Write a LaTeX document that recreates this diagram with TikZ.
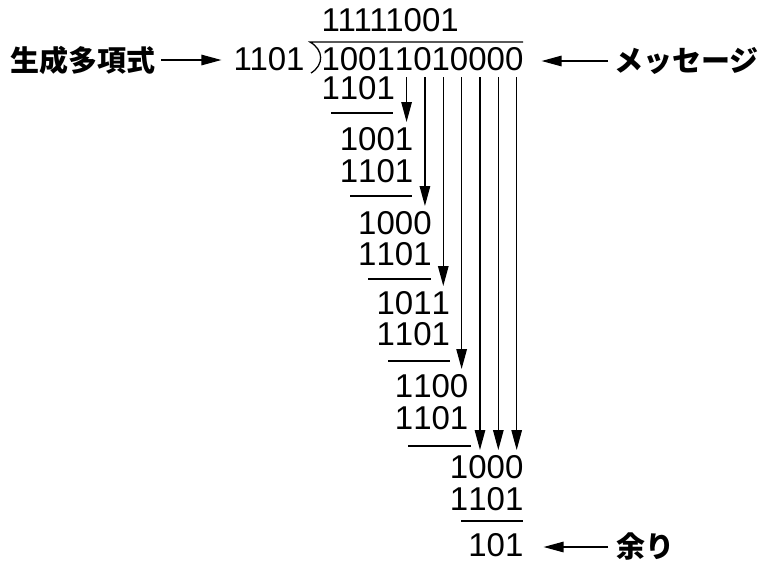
\documentclass[tikz,border=0pt]{standalone}
\usepackage{fontspec}
\setmainfont{Liberation Sans}
\newfontfamily\jpfont{Noto Sans CJK JP}
\usetikzlibrary{arrows.meta}
\tikzset{
  digit/.style={inner sep=0pt, minimum width=18.35pt, text height=23.6pt, text depth=0pt,
    font=\fontsize{33}{36}\selectfont},
  word/.style={inner sep=0pt, anchor=west, font=\jpfont\bfseries\fontsize{29}{32}\selectfont},
  tip/.style={line width=1.3pt, -{Triangle[length=20pt,width=10.5pt]}},
  rule/.style={line width=1.3pt},
}
\begin{document}
\begin{tikzpicture}[x=1pt,y=-1pt]
  \useasboundingbox (0,0) rectangle (783,566);

  % quotient, divisor and the division sign
  \node[digit, anchor=west] (q) at (321.5,20) {11111001};
  \node[digit, anchor=west] (div) at (233.4,59) {1101};
  \draw[rule] (523,42) -- (310,42) .. controls (324,50) and (324,65) .. (311,73);

  % message bits
  \foreach \d [count=\i from 0] in {1,0,0,1,1,0,1,0,0,0,0}
    {\node[digit] (m\i) at (330.675+18.35*\i,59) {\d};}

  % steps of the division
  \foreach \r/\c/\y/\ds in {1/0/88/{1,1,0,1}, 2/1/139/{1,0,0,1}, 3/1/171/{1,1,0,1},
      4/2/223/{1,0,0,0}, 5/2/254/{1,1,0,1}, 6/3/303/{1,0,1,1}, 7/3/334/{1,1,0,1},
      8/4/386/{1,1,0,0}, 9/4/418/{1,1,0,1}, 10/7/467/{1,0,0,0}, 11/7/499/{1,1,0,1},
      12/8/545/{1,0,1}}
    {\foreach \d [count=\k from \c] in \ds
      {\node[digit] (r\r-\k) at (330.675+18.35*\k,\y) {\d};}}

  \foreach \a/\b/\y in {331/393/113, 350/412/196, 368/431/279,
      388/450/361, 408/471/446, 461/523/521}
    {\draw[rule] (\a,\y) -- (\b,\y);}

  % bits brought down
  \foreach \c/\r in {4/2,5/4,6/6,7/8,8/10,9/10,10/10}
    {\draw[tip, shorten <=6pt, shorten >=5pt] ([xshift=2.5pt]m\c.south) -- ([xshift=2.5pt]r\r-\c.north);}

  % labels
  \node[word] (gen) at (10,60) {生成多項式};
  \node[word] (msg) at (614,61) {メッセージ};
  \node[word] (rem) at (616,547) {余り};
  \draw[tip, shorten <=6pt, shorten >=12pt] (gen.east) -- (gen.east -| div.west);
  \draw[tip, shorten <=6pt, shorten >=18pt] (msg.west) -- (msg.west -| m10.east);
  \draw[tip, shorten <=8pt, shorten >=20pt] (rem.west) -- (rem.west -| r12-10.east);
\end{tikzpicture}
\end{document}
